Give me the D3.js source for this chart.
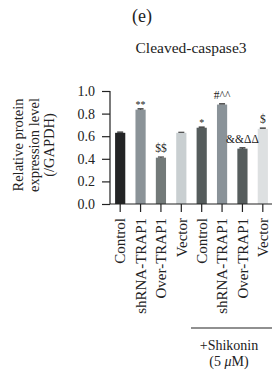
<!DOCTYPE html>
<html>
<head>
<meta charset="utf-8">
<script src="https://cdn.jsdelivr.net/npm/d3@7"></script>
<style>
  body { margin: 0; background: #fff; }
  text { font-family: "Liberation Serif", "DejaVu Serif", serif; fill: #222; }
</style>
</head>
<body>
<div id="viz"></div>
<script>
// datos
const categories = ["Control", "shRNA-TRAP1", "Over-TRAP1", "Vector", "Control", "shRNA-TRAP1", "Over-TRAP1", "Vector"];
const values = [0.63, 0.835, 0.41, 0.63, 0.675, 0.88, 0.49, 0.665];
const errors = [0.006, 0.006, 0.006, 0.005, 0.006, 0.006, 0.006, 0.006];
const marks = ["", "**", "$$", "", "*", "#^^", "&&ΔΔ", "$"];
const colors = ["#232425", "#8b9398", "#737a79", "#c9cfd1", "#555c5c", "#8a9399", "#565d5d", "#dde0e1"];
const yTicks = [0.0, 0.2, 0.4, 0.6, 0.8, 1.0];

const W = 272, H = 372;
const svg = d3.select("#viz").append("svg").attr("width", W).attr("height", H);

// escalas
const x = d3.scaleBand()
  .domain(d3.range(categories.length))
  .range([110, 273])
  .paddingInner(0.5)
  .paddingOuter(0.25);
const y = d3.scaleLinear().domain([0, 1]).range([204, 91]);

// títulos
svg.append("text").attr("x", 142).attr("y", 22).attr("text-anchor", "middle")
  .style("font-size", "18px").text("(e)");
svg.append("text").attr("x", 191).attr("y", 53).attr("text-anchor", "middle")
  .style("font-size", "15.5px").text("Cleaved-caspase3");

// etiqueta eje Y
const yl = svg.append("text").attr("transform", "translate(0,145) rotate(-90)")
  .attr("text-anchor", "middle").style("font-size", "14.5px");
["Relative protein", "expression level", "(/GAPDH)"].forEach((t, i) => {
  yl.append("tspan").attr("x", 0).attr("y", 23 + i * 15.5).text(t);
});

// eje Y
const gy = svg.append("g").attr("transform", "translate(110,0)")
  .call(d3.axisLeft(y).tickValues(yTicks).tickFormat(d3.format(".1f")).tickSize(8).tickPadding(7));
gy.select(".domain").attr("stroke", "#222").attr("stroke-width", 1.2).attr("d", `M0,${y(1)}V${y(0)}`);
gy.selectAll(".tick line").attr("stroke", "#222").attr("stroke-width", 1.2);
gy.selectAll(".tick text").style("font-family", "Liberation Serif, serif").style("font-size", "14px").attr("fill", "#222");

// barras
svg.selectAll("rect.bar").data(values).enter().append("rect")
  .attr("class", "bar")
  .attr("x", (d, i) => x(i))
  .attr("width", x.bandwidth())
  .attr("y", d => y(d))
  .attr("height", d => y(0) - y(d))
  .attr("fill", (d, i) => colors[i]);

// barras de error
values.forEach((v, i) => {
  const cx = x(i) + x.bandwidth() / 2;
  svg.append("path")
    .attr("d", `M${cx - 3},${y(v + errors[i])}H${cx + 3}M${cx},${y(v + errors[i])}V${y(v)}`)
    .attr("stroke", "#222").attr("stroke-width", 1.2).attr("fill", "none");
});

// signos de significancia
svg.selectAll("text.mark").data(marks).enter().append("text")
  .attr("class", "mark")
  .attr("x", (d, i) => x(i) + x.bandwidth() / 2)
  .attr("y", (d, i) => y(values[i] + errors[i]) - (d[0] === "*" ? 1 : 5))
  .attr("text-anchor", "middle")
  .style("font-size", d => d[0] === "*" ? "10px" : "11.5px")
  .text(d => d);

// eje X
const gx = svg.append("g").attr("transform", `translate(0,${y(0)})`)
  .call(d3.axisBottom(x).tickFormat(i => categories[i]).tickSize(8).tickPadding(6));
gx.select(".domain").attr("stroke", "#222").attr("stroke-width", 1.2).attr("d", `M110,0H272`);
gx.selectAll(".tick line").attr("stroke", "#222").attr("stroke-width", 1.2);
gx.selectAll(".tick text")
  .style("font-family", "Liberation Serif, serif").style("font-size", "15px").attr("fill", "#222")
  .attr("transform", "rotate(-90)")
  .attr("text-anchor", "end")
  .attr("x", -14).attr("y", 0)
  .attr("dy", "0.35em");

// llave +Shikonin
svg.append("line").attr("x1", 191).attr("x2", 272).attr("y1", 328).attr("y2", 328)
  .attr("stroke", "#222").attr("stroke-width", 1.2);
svg.append("text").attr("x", 229).attr("y", 350).attr("text-anchor", "middle")
  .style("font-size", "14px").text("+Shikonin");
const t2 = svg.append("text").attr("x", 229).attr("y", 366).attr("text-anchor", "middle")
  .style("font-size", "14px");
t2.append("tspan").text("(5 ");
t2.append("tspan").style("font-style", "italic").text("μ");
t2.append("tspan").text("M)");
</script>
</body>
</html>
